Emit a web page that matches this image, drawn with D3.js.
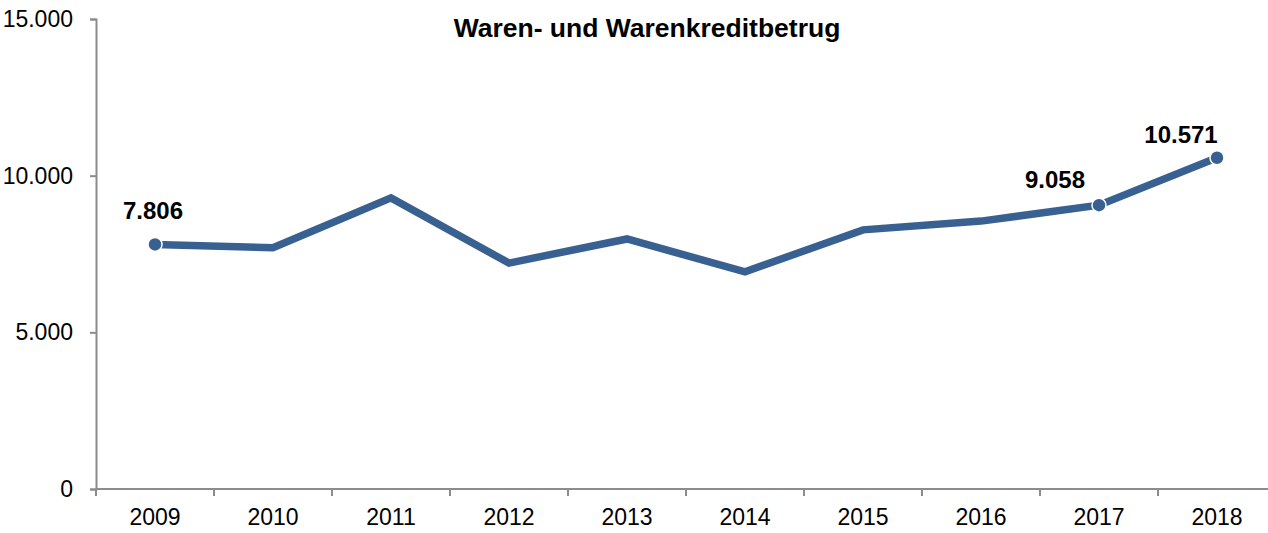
<!DOCTYPE html>
<html>
<head>
<meta charset="utf-8">
<script src="https://cdn.jsdelivr.net/npm/d3@7"></script>
<style>
body { margin: 0; background: #fff; }
text { font-family: "Liberation Sans", Arial, sans-serif; }
.axis text { font-size: 23px; fill: #000; }
.axis path, .axis line { stroke: #8c8c8c; stroke-width: 2; }
.title { font-size: 26.5px; font-weight: bold; }
.lbl { font-size: 24px; font-weight: bold; }
</style>
</head>
<body>
<div id="chart"></div>
<script>
var years = ["2009","2010","2011","2012","2013","2014","2015","2016","2017","2018"]
var values = [7806, 7700, 9290, 7210, 7980, 6930, 8270, 8550, 9058, 10571]
var yTicks = [0, 5000, 10000, 15000]
// which points get a marker + label, and label nudge (dx, dy)
var labelled = [
    {year: "2009", dx: -2, dy: -25},
    {year: "2017", dx: -44, dy: -17},
    {year: "2018", dx: -36, dy: -15}
]

var width = 1268, height = 533
var svg = d3.select("#chart").append("svg")
    .attr("width", width).attr("height", height)

var x = d3.scaleBand().domain(years).range([96, 1276])
var y = d3.scaleLinear().domain([0, 15000]).range([489, 19])

var fmt = function(v){ return d3.format(",")(v).replace(/,/g, ".") }

svg.append("g").attr("class", "axis")
    .attr("transform", "translate(96,0)")
    .call(d3.axisLeft(y).tickValues(yTicks).tickSize(6).tickPadding(17).tickFormat(fmt))

var xa = svg.append("g").attr("class", "axis")
    .attr("transform", "translate(0,489)")
    .call(d3.axisBottom(x).tickSize(0).tickPadding(20))
xa.select(".domain").attr("d", "M96,0H1276")
xa.selectAll(".sep").data(years.concat(["end"])).enter().append("line")
    .attr("class", "sep")
    .attr("x1", function(d, i){ return 96 + i * x.step() })
    .attr("x2", function(d, i){ return 96 + i * x.step() })
    .attr("y1", 0).attr("y2", 7)
    .attr("stroke", "#8c8c8c").attr("stroke-width", 2)

svg.append("text").attr("class", "title")
    .attr("x", 647).attr("y", 37).attr("text-anchor", "middle")
    .text("Waren- und Warenkreditbetrug")

var pts = years.map(function(d, i){ return {year: d, value: values[i]} })

var line = d3.line()
    .x(function(d){ return x(d.year) + x.bandwidth() / 2 })
    .y(function(d){ return y(d.value) })

svg.append("path").datum(pts)
    .attr("fill", "none").attr("stroke", "#386192")
    .attr("stroke-width", 7.5).attr("stroke-linejoin", "miter")
    .attr("d", line)

var marked = labelled.map(function(l){
    var p = pts.find(function(q){ return q.year == l.year })
    return {year: l.year, value: p.value, dx: l.dx, dy: l.dy}
})

svg.selectAll(".dot").data(marked).enter().append("circle")
    .attr("class", "dot")
    .attr("cx", function(d){ return x(d.year) + x.bandwidth() / 2 })
    .attr("cy", function(d){ return y(d.value) })
    .attr("r", 7).attr("fill", "#386192")
    .attr("stroke", "#fff").attr("stroke-width", 1.5)

svg.selectAll(".lbl").data(marked).enter().append("text")
    .attr("class", "lbl").attr("text-anchor", "middle")
    .attr("x", function(d){ return x(d.year) + x.bandwidth() / 2 + d.dx })
    .attr("y", function(d){ return y(d.value) + d.dy })
    .text(function(d){ return fmt(d.value) })
</script>
</body>
</html>
